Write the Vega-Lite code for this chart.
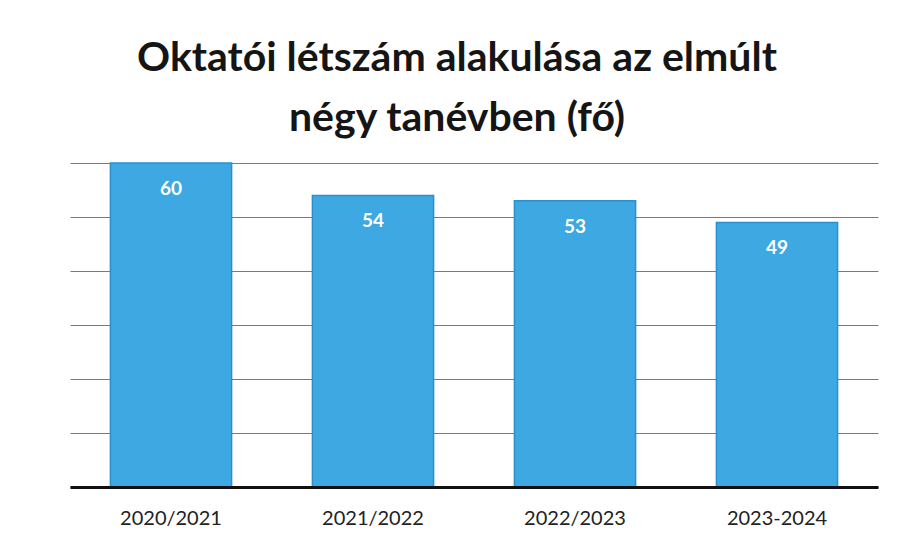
{
  "$schema": "https://vega.github.io/schema/vega-lite/v6.json",
  "width": 808,
  "height": 324,
  "autosize": "none",
  "padding": {"left": 70, "top": 163, "right": 37, "bottom": 73},
  "background": "white",
  "title": {
    "text": ["Oktatói létszám alakulása az elmúlt", "négy tanévben (fő)"],
    "font": "Lato",
    "fontSize": 41,
    "fontWeight": "bold",
    "color": "#151515",
    "lineHeight": 60,
    "anchor": "middle",
    "dx": -17,
    "offset": 22
  },
  "data": {
    "values": [
      {"tanev": "2020/2021", "fo": 60},
      {"tanev": "2021/2022", "fo": 54},
      {"tanev": "2022/2023", "fo": 53},
      {"tanev": "2023-2024", "fo": 49}
    ]
  },
  "encoding": {
    "x": {
      "field": "tanev",
      "type": "nominal",
      "sort": null,
      "scale": {"paddingInner": 0.4, "paddingOuter": 0.2},
      "axis": {
        "title": null,
        "labelAngle": 0,
        "labelFont": "Lato",
        "labelFontSize": 20,
        "labelColor": "#222222",
        "labelPadding": 21,
        "ticks": false,
        "domainColor": "#111111",
        "domainWidth": 3,
        "zindex": 2
      }
    },
    "y": {
      "field": "fo",
      "type": "quantitative",
      "scale": {"domain": [0, 60]},
      "axis": {
        "title": null,
        "labels": false,
        "ticks": false,
        "domain": false,
        "grid": true,
        "tickCount": 6,
        "gridColor": "#7a7a7a",
        "gridWidth": 1,
        "zindex": 0
      }
    }
  },
  "layer": [
    {
      "mark": {"type": "bar", "color": "#3da8e2", "stroke": "#2b90cf", "strokeWidth": 1.5}
    },
    {
      "mark": {"type": "text", "baseline": "middle", "dy": 26, "font": "Lato", "fontSize": 19, "fontWeight": "bold", "color": "white"},
      "encoding": {"text": {"field": "fo", "type": "quantitative"}}
    }
  ],
  "config": {"view": {"stroke": null}}
}
